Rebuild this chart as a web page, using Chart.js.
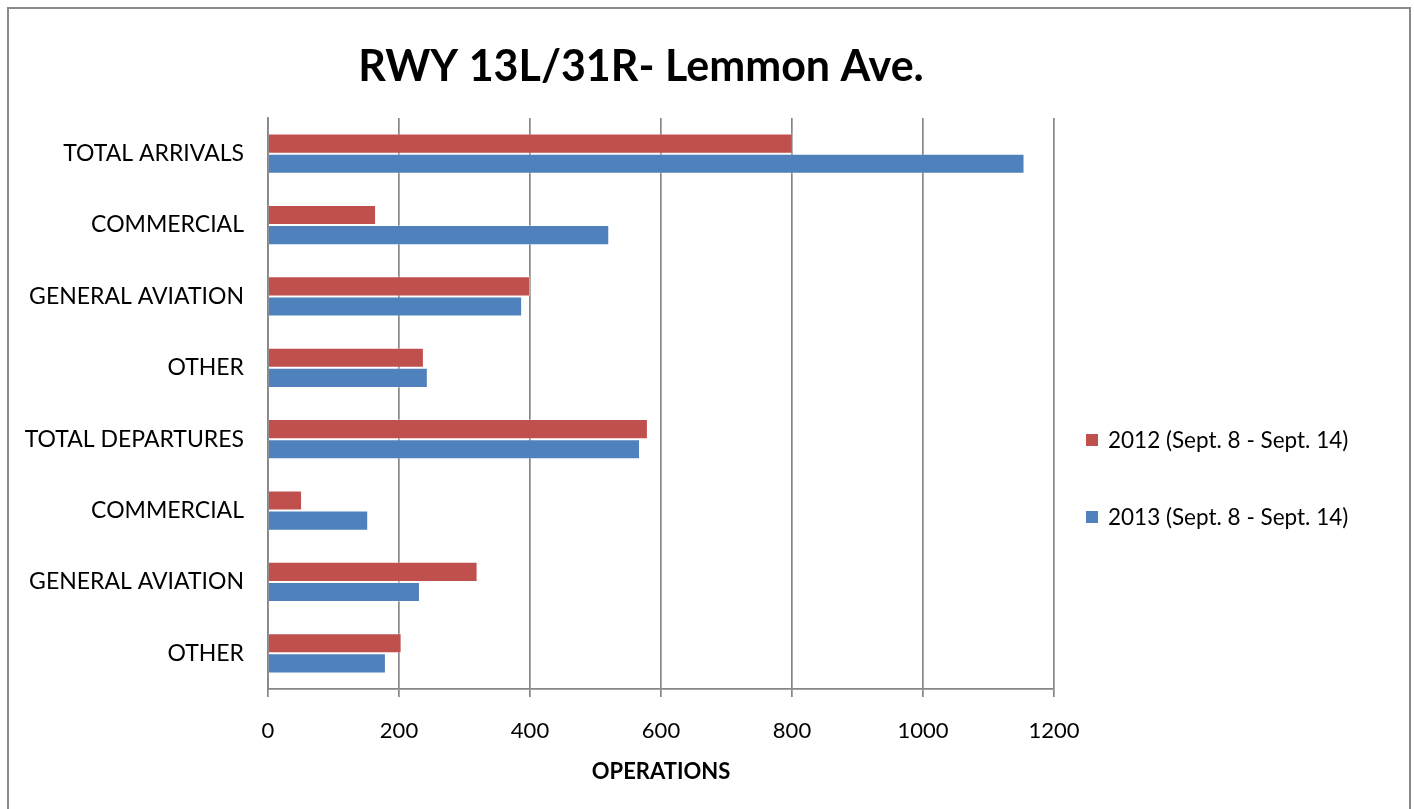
<!DOCTYPE html>
<html>
<head>
<meta charset="utf-8">
<script src="https://cdn.jsdelivr.net/npm/chart.js@4.4.0/dist/chart.umd.min.js"></script>
<style>
  html, body { margin: 0; padding: 0; background: #fff; }
  #frame {
    position: absolute; left: 7px; top: 7px; width: 1404px; height: 820px;
    border: 2px solid #8a8a8a; box-sizing: border-box; pointer-events: none;
  }
  #wrap { position: absolute; left: 0; top: 0; width: 1414px; height: 809px; }
</style>
</head>
<body>
<div id="wrap"><canvas id="rwyChart" width="1414" height="809"></canvas></div>
<div id="frame"></div>
<script>
var chartTitle = 'RWY 13L/31R- Lemmon Ave.';
var categories = ['TOTAL ARRIVALS', 'COMMERCIAL', 'GENERAL AVIATION', 'OTHER',
                  'TOTAL DEPARTURES', 'COMMERCIAL', 'GENERAL AVIATION', 'OTHER'];
var seriesNames = ['2012 (Sept. 8 - Sept. 14)', '2013 (Sept. 8 - Sept. 14)'];
var ops2012 = [801, 165, 400, 238, 580, 52, 320, 204];
var ops2013 = [1155, 521, 388, 244, 568, 153, 232, 180];
var xTicks = [0, 200, 400, 600, 800, 1000, 1200];

var RED = '#C0504D';
var BLUE = '#4F81BD';
var GRID = '#868686';
var FONT = 'Lato, "Open Sans", sans-serif';

document.addEventListener('DOMContentLoaded', function() {
    // title and legend drawn at fixed spots like the Excel original
    var decorPlugin = {
        id: 'decor',
        afterDraw: function(chart) {
            var ctx = chart.ctx;
            ctx.save();
            ctx.fillStyle = '#000';
            ctx.font = 'bold 43px ' + FONT;
            ctx.textAlign = 'center';
            ctx.textBaseline = 'middle';
            ctx.fillText(chartTitle, 641, 67);

            ctx.font = '22.5px ' + FONT;
            ctx.textAlign = 'left';
            var ys = [440, 517];
            chart.data.datasets.forEach(function(ds, i) {
                ctx.fillStyle = ds.backgroundColor;
                ctx.fillRect(1086, ys[i] - 6, 12, 12);
                ctx.fillStyle = '#000';
                ctx.fillText(ds.label, 1108, ys[i] + 1);
            });
            ctx.restore();
        }
    };

    var ctx = document.getElementById('rwyChart').getContext('2d');
    var rwyChart = new Chart(ctx, {
        type: 'bar',
        data: {
            labels: categories,
            datasets: [{
                label: seriesNames[0],
                data: ops2012,
                backgroundColor: RED,
                borderColor: 'rgba(255,255,255,0.35)',
                borderWidth: 1,
                categoryPercentage: 0.565,
                barPercentage: 1.0
            }, {
                label: seriesNames[1],
                data: ops2013,
                backgroundColor: BLUE,
                borderColor: 'rgba(255,255,255,0.35)',
                borderWidth: 1,
                categoryPercentage: 0.565,
                barPercentage: 1.0
            }]
        },
        options: {
            indexAxis: 'y',
            responsive: false,
            animation: false,
            devicePixelRatio: 1,
            layout: {
                padding: { top: 118, right: 360, bottom: 24, left: 0 }
            },
            plugins: {
                legend: { display: false },
                title: { display: false },
                tooltip: { enabled: false }
            },
            scales: {
                x: {
                    min: 0,
                    max: 1200,
                    afterFit: function(scale) { scale.height = 96; },
                    afterBuildTicks: function(scale) {
                        scale.ticks = xTicks.map(function(v) { return { value: v }; });
                    },
                    grid: {
                        color: GRID,
                        lineWidth: 1.7,
                        drawTicks: true,
                        tickLength: 8
                    },
                    border: { color: GRID, width: 1.7 },
                    ticks: {
                        color: '#000',
                        padding: 23,
                        maxRotation: 0,
                        font: { family: FONT, size: 22, lineHeight: 1.0 },
                        callback: function(value) { return String(value); }
                    },
                    title: {
                        display: true,
                        text: 'OPERATIONS',
                        color: '#000',
                        padding: { top: 0, bottom: 0 },
                        font: { family: FONT, size: 22, weight: 'bold' }
                    }
                },
                y: {
                    afterFit: function(scale) { scale.width = 268; },
                    grid: { display: false, drawTicks: false },
                    border: { color: GRID, width: 1.7 },
                    ticks: {
                        color: '#000',
                        padding: 24,
                        autoSkip: false,
                        font: { family: FONT, size: 23 }
                    }
                }
            }
        },
        plugins: [decorPlugin]
    });
});
</script>
</body>
</html>
